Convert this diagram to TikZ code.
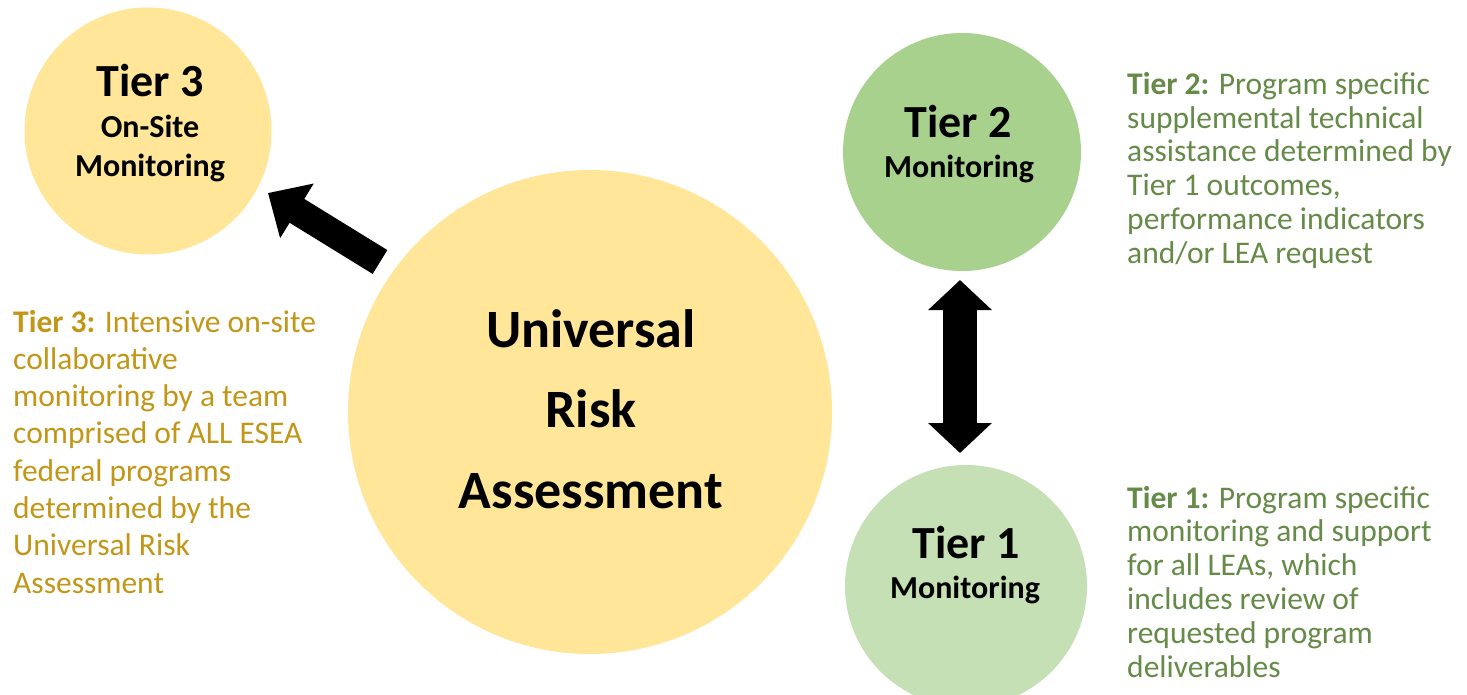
\documentclass[tikz,border=0pt]{standalone}
\usepackage{fontspec}
\setmainfont{Carlito}
\usetikzlibrary{arrows.meta,shapes.geometric}
\definecolor{ryellow}{HTML}{FFE699}
\definecolor{rgreenA}{HTML}{A9D18E}
\definecolor{rgreenB}{HTML}{C5E0B4}
\definecolor{goldtxt}{HTML}{C29718}
\definecolor{greentxt}{HTML}{668A48}
\begin{document}
\begin{tikzpicture}[x=1pt,y=-1pt,
  blob/.style={circle,inner sep=0pt,draw=none},
  ctext/.style={anchor=base,inner sep=0pt,text=black},
  dtext/.style={anchor=base west,inner sep=0pt},
  bigarrow/.style={line width=28pt,-{Triangle[length=34pt,width=62pt]}},
  dblarrow/.style={line width=34pt,{Triangle[length=30pt,width=62pt]}-{Triangle[length=30pt,width=62pt]}}]
\useasboundingbox (0,0) rectangle (1467,695);
\fill[white] (0,0) rectangle (1467,695);

% circles
\node[blob,fill=ryellow,minimum size=484pt] (ura) at (590,412) {};
\node[blob,fill=ryellow,minimum size=247pt] (t3) at (148,131) {};
\node[blob,fill=rgreenA,minimum size=238pt] (t2) at (962,152) {};
\node[blob,fill=rgreenB,minimum size=242pt] (t1) at (966,586) {};

% circle texts
\node[ctext,font=\fontsize{54}{60}\selectfont\bfseries] (u1) at (591,347) {Universal};
\node[ctext,font=\fontsize{54}{60}\selectfont\bfseries] (u2) at (591,427) {Risk};
\node[ctext,font=\fontsize{54}{60}\selectfont\bfseries] (u3) at (591,508) {Assessment};

\node[ctext,font=\fontsize{46}{50}\selectfont\bfseries] (t3a) at (150,97) {Tier 3};
\node[ctext,font=\fontsize{32}{36}\selectfont\bfseries] (t3b) at (150,138) {On-Site};
\node[ctext,font=\fontsize{32}{36}\selectfont\bfseries] (t3c) at (150,177) {Monitoring};

\node[ctext,font=\fontsize{46}{50}\selectfont\bfseries] (t2a) at (958,138) {Tier 2};
\node[ctext,font=\fontsize{32}{36}\selectfont\bfseries] (t2b) at (959,178) {Monitoring};

\node[ctext,font=\fontsize{46}{50}\selectfont\bfseries] (t1a) at (966,558) {Tier 1};
\node[ctext,font=\fontsize{32}{36}\selectfont\bfseries] (t1b) at (965,598) {Monitoring};

% arrows
\coordinate (a3s) at (380,262);
\coordinate (a3e) at (268,193);
\draw[bigarrow] (a3s) -- (a3e);
\coordinate (d2) at (960,280);
\coordinate (d1) at (960,453);
\draw[dblarrow] (d1) -- (d2);

% descriptions
\foreach \txt [count=\i] in {{\textbf{Tier 3:} Intensive on-site},collaborative,monitoring by a team,comprised of ALL ESEA,federal programs,determined by the,Universal Risk,Assessment}
  \node[dtext,text=goldtxt,font=\fontsize{31.5}{36}\selectfont] (d3l\i) at (13,{332+37.3*(\i-1)}) {\txt};

\foreach \txt [count=\i] in {{\textbf{Tier 2:} Program specific},supplemental technical,assistance determined by,{Tier 1 outcomes,},performance indicators,and/or LEA request}
  \node[dtext,text=greentxt,font=\fontsize{31.5}{36}\selectfont] (d2l\i) at (1127,{94.5+33.7*(\i-1)}) {\txt};

\foreach \txt [count=\i] in {{\textbf{Tier 1:} Program specific},monitoring and support,{for all LEAs, which},includes review of,requested program,deliverables}
  \node[dtext,text=greentxt,font=\fontsize{31.5}{36}\selectfont] (d1l\i) at (1127,{508+33.8*(\i-1)}) {\txt};
\end{tikzpicture}
\end{document}
